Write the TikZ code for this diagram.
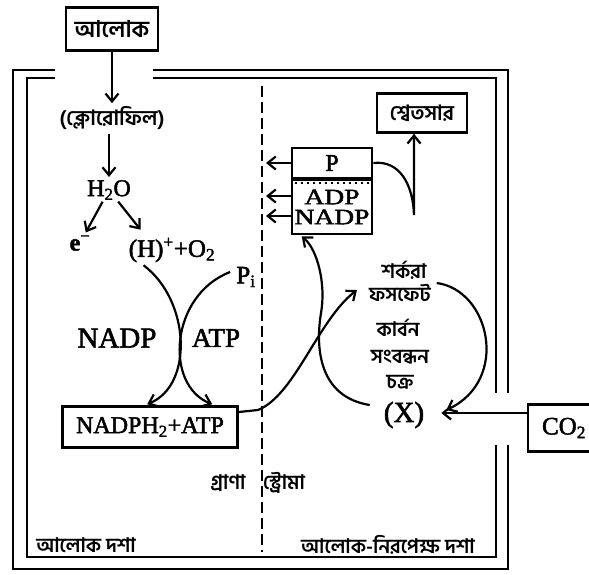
\documentclass[tikz,border=0pt]{standalone}
\usepackage{graphicx}
\usepackage{fontspec}
\setmainfont{Liberation Serif}[FakeBold=2]
\newfontfamily\bn[Script=Bengali]{Hind Siliguri}
\usetikzlibrary{arrows.meta,calc}
\begin{document}
\begin{tikzpicture}[x=1pt,y=-1pt,
  ln/.style={line width=2.2pt},
  arr/.style={line width=2.2pt,-{Straight Barb[length=8pt,width=13pt]}},
  bx/.style={draw,line width=2.6pt,inner sep=0pt},
  lt/.style={inner sep=0pt,font=\fontsize{24}{26}\selectfont},
  bt/.style={inner sep=0pt,font=\bn\bfseries\fontsize{20}{22}\selectfont},
]
\useasboundingbox (0,0) rectangle (589,574);
% frame (double line)
\draw[ln] (55,70) -- (13,70) -- (13,569) -- (508,569) -- (508,445);
\draw[ln] (508,393) -- (508,70) -- (153,70);
\draw[ln] (55,78) -- (27,78) -- (27,557) -- (496,557) -- (496,445);
\draw[ln] (496,393) -- (496,78) -- (153,78);
% grana / stroma divider
\draw[line width=2pt,dash pattern=on 11pt off 5pt] (262,86) -- (262,552);

% light phase
\node[bx,minimum width=92pt,minimum height=43pt,font=\bn\bfseries\fontsize{23}{26}\selectfont] (alok) at (112,29) {আলোক};
\node[bt,font=\bn\bfseries\fontsize{21}{24}\selectfont] (chl) at (112,118) {(ক্লোরোফিল)};
\node[lt] (h2o) at (109,190) {H\textsubscript{2}O};
\node[lt,font=\bfseries\fontsize{24}{24}\selectfont] (e) at (80,243) {e\textsuperscript{−}};
\node[lt,font=\fontsize{25}{26}\selectfont] (hp) at (172,250) {(H)\textsuperscript{+}+O\textsubscript{2}};
\node[lt,font=\fontsize{25}{26}\selectfont] (pi) at (246,277) {P\textsubscript{i}};
\node[lt,font=\fontsize{29}{30}\selectfont] (nadp) at (117,338) {NADP};
\node[lt,font=\fontsize{27}{30}\selectfont] (atp) at (216,338) {ATP};
\node[bx,minimum width=175pt,minimum height=41pt,font=\fontsize{24}{26}\selectfont] (nadph) at (150,427) {NADPH\textsubscript{2}+ATP};

\draw[arr,shorten >=3pt] (alok.south) -- (alok.south |- chl.north);
\draw[arr,shorten <=4pt,shorten >=3pt] (chl.south -| h2o.north) -- (h2o.north);
\draw[arr,shorten <=2pt,shorten >=3pt] (h2o) -- (e);
\draw[arr,shorten <=2pt] (h2o) -- ($(hp.north west)+(12,-8)$);
\draw[arr] ($(hp.south west)+(15,3)$) .. controls (190,300) and (194,385) .. ($(nadph.north west)+(86,-1)$);
\draw[arr] ($(pi.west)+(-6,-5)$) .. controls (170,295) and (164,385) .. ($(nadph.north west)+(151,-1)$);

% dark phase
\node[bx,minimum width=80pt,minimum height=30pt,font=\fontsize{24}{24}\selectfont] (pb) at (332,163) {P};
\node[bx,minimum width=80pt,minimum height=54pt,font=\fontsize{22}{20}\selectfont,align=center] (ab) at (332,207) {\scalebox{1.25}[1]{ADP}\\\scalebox{1.25}[1]{NADP}};
\draw[line width=2pt,dash pattern=on 2pt off 4pt] ($(ab.north west)+(4,4)$) -- ($(ab.north east)+(-4,4)$);
\node[bx,minimum width=90pt,minimum height=39pt,font=\bn\bfseries\fontsize{21}{24}\selectfont] (sw) at (422,113) {শ্বেতসার};

\coordinate (d1) at (266,163);
\coordinate (d2) at (266,196);
\coordinate (d3) at (266,216);
\draw[arr] (pb.west) -- (d1);
\draw[arr] ($(ab.west)+(0,-11)$) -- (d2);
\draw[arr] ($(ab.west)+(0,9)$) -- (d3);

\coordinate (cusp) at (414,215);
\draw[arr] (pb.east) .. controls (400,160) and (413,185) .. (cusp) -- ($(sw.south)+(-8,0)$);

\node[bt] (c1) at (404,270) {শর্করা};
\node[bt] (c2) at (400,293) {ফসফেট};
\node[bt] (c3) at (398,328) {কার্বন};
\node[bt] (c4) at (400,357) {সংবন্ধন};
\node[bt] (c5) at (400,382) {চক্র};
\node[lt,font=\fontsize{29}{30}\selectfont] (x) at (404,415) {(X)};
\node[bx,minimum width=72pt,minimum height=47pt,font=\fontsize{25}{26}\selectfont] (co2) at (564,428) {CO\textsubscript{2}};

\coordinate (nb) at (258,410);
\draw[arr] ($(nadph.east)+(0,-15)$) -- (nb) .. controls (295,395) and (318,320) .. ($(c2.west)+(-12,-3)$);
\draw[arr] ($(x.west)+(-14,-10)$) .. controls (320,397) and (315,350) .. (321,313) .. controls (326,285) and (318,250) .. ($(ab.south west)+(11,1)$);
\draw[arr] ($(c1.east)+(10,13)$) .. controls (490,290) and (510,380) .. ($(x.east)+(22,-5)$);
\draw[arr] ($(co2.west)+(0,-15)$) -- ($(x.east)+(17,-2)$);

% region labels
\node[bt] (gr) at (228,483) {গ্রাণা};
\node[bt] (st) at (284,483) {স্ট্রোমা};
\node[bt] (l1) at (86,545) {আলোক দশা};
\node[bt] (l2) at (388,545) {আলোক-নিরপেক্ষ দশা};
\end{tikzpicture}
\end{document}
